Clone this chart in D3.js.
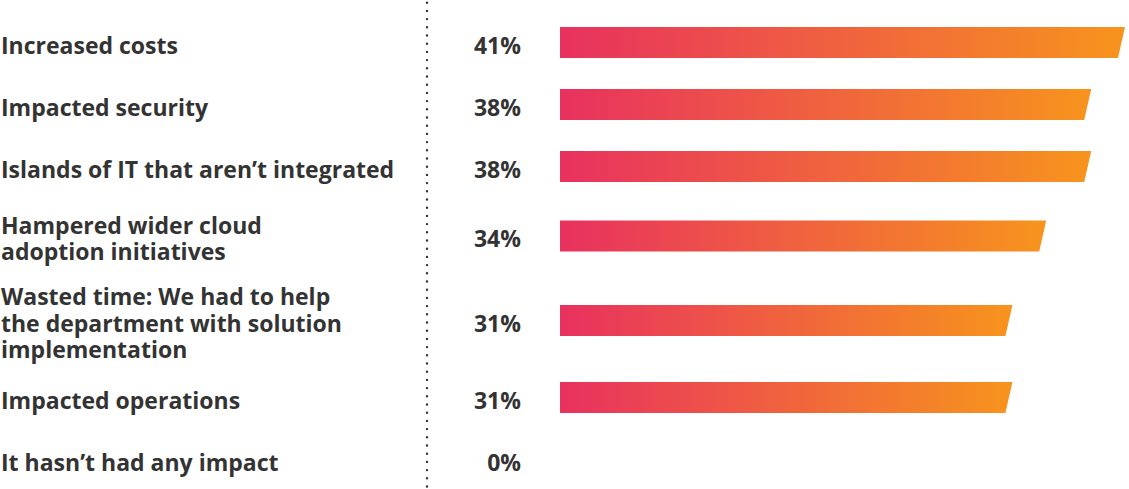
<!DOCTYPE html>
<html>
<head>
<meta charset="utf-8">
<script src="https://cdn.jsdelivr.net/npm/d3@7"></script>
<style>
  html, body { margin: 0; padding: 0; background: #fff; }
  svg text { font-family: "Open Sans", Lato, sans-serif; font-weight: 700; fill: #333; }
</style>
</head>
<body>
<div id="chart"></div>
<script>
// labels (one entry per line), values in %
var categories = [
	["Increased costs"],
	["Impacted security"],
	["Islands of IT that aren\u2019t integrated"],
	["Hampered wider cloud", "adoption initiatives"],
	["Wasted time: We had to help", "the department with solution", "implementation"],
	["Impacted operations"],
	["It hasn\u2019t had any impact"]
];
var values = [41, 38, 38, 34, 31, 31, 0];
var valueLabels = ["41%", "38%", "38%", "34%", "31%", "31%", "0%"];

var width = 1129, height = 489;

var svg = d3.select("#chart").append("svg")
	.attr("width", width).attr("height", height);

// gradient for the bars (runs across each bar)
var grad = svg.append("defs").append("linearGradient").attr("id", "barGrad");
grad.append("stop").attr("offset", "0%").attr("stop-color", "#e8315f");
grad.append("stop").attr("offset", "100%").attr("stop-color", "#f7941d");

// row centres: spacing grows with the number of text lines
var lineStep = 15, rowGap = 47;
var centers = [];
categories.forEach(function(lines, i) {
	if (i == 0) { centers.push(45); return; }
	var prev = categories[i-1].length;
	centers.push(centers[i-1] + rowGap + lineStep * (prev + lines.length) / 2);
});

// the bars in the source aren't quite proportional, so the value axis
// starts a bit below zero to fit them
var x = d3.scaleLinear().domain([-9.2, 41]).range([560, 1125]);

var lineHeight = 26.5;
var fontSize = 23;
var barHeight = 31;
var slant = 7;

// dotted divider
svg.append("line")
	.attr("x1", 427).attr("x2", 427)
	.attr("y1", 2.7).attr("y2", height)
	.attr("stroke", "#333")
	.attr("stroke-width", 2.4)
	.attr("stroke-linecap", "round")
	.attr("stroke-dasharray", "0 8.2");

var rows = svg.selectAll(".row")
	.data(d3.range(categories.length))
	.enter().append("g")
	.attr("class", "row");

// category labels
rows.append("text")
	.attr("x", 1)
	.attr("font-size", fontSize)
	.each(function(i) {
		var lines = categories[i];
		var top = centers[i] - (lines.length - 1) * lineHeight / 2;
		d3.select(this).selectAll("tspan")
			.data(lines)
			.enter().append("tspan")
			.attr("x", 1)
			.attr("y", function(d, j) { return top + j * lineHeight + 8.5; })
			.text(function(d) { return d; });
	});

// value labels
rows.append("text")
	.attr("x", 521)
	.attr("y", function(i) { return centers[i] + 8.5; })
	.attr("text-anchor", "end")
	.attr("font-size", fontSize)
	.text(function(i) { return valueLabels[i]; });

// bars with slanted right end
rows.filter(function(i) { return values[i] > 0; })
	.append("path")
	.attr("fill", "url(#barGrad)")
	.attr("d", function(i) {
		var y0 = centers[i] - 2.5 - barHeight / 2;
		var y1 = y0 + barHeight;
		var x0 = x(-9.2), x1 = x(values[i]);
		return "M" + x0 + "," + y0 + "L" + x1 + "," + y0 +
			"L" + (x1 - slant) + "," + y1 + "L" + x0 + "," + y1 + "Z";
	});
</script>
</body>
</html>
